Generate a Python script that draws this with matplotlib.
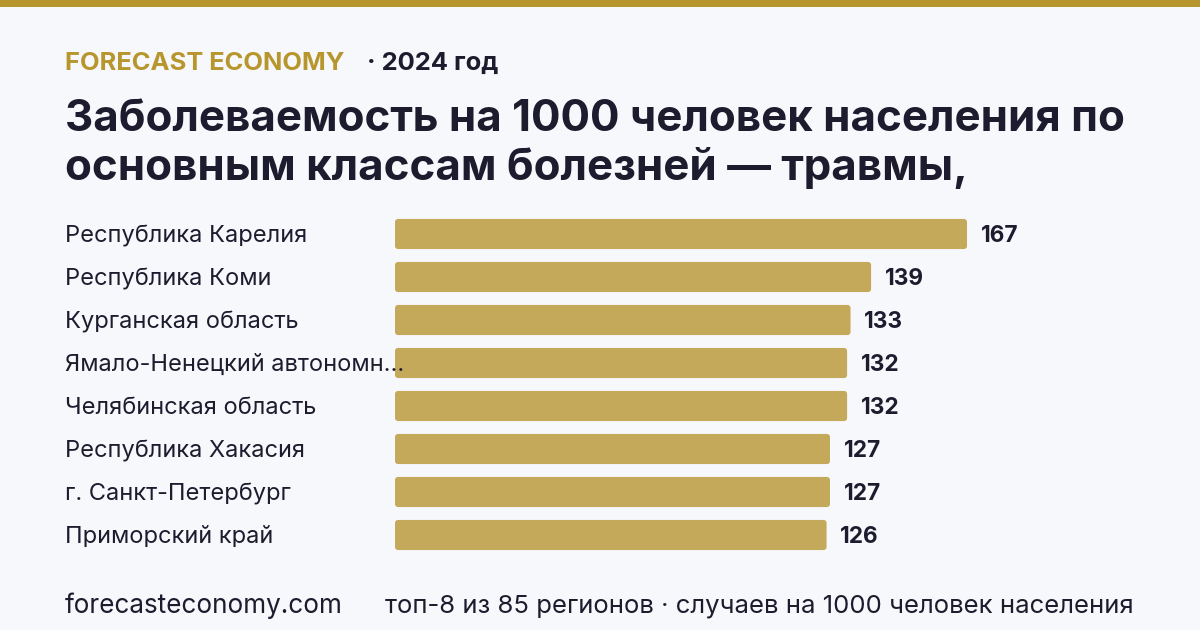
import matplotlib.pyplot as plt
from matplotlib.patches import FancyBboxPatch
from matplotlib.transforms import blended_transform_factory

plt.rcParams['font.family'] = ['Inter', 'DejaVu Sans']

regions = [
    "Республика Карелия",
    "Республика Коми",
    "Курганская область",
    "Ямало-Ненецкий автономн...",
    "Челябинская область",
    "Республика Хакасия",
    "г. Санкт-Петербург",
    "Приморский край",
]
values = [167, 139, 133, 132, 132, 127, 127, 126]

bg = "#f7f8fc"
gold = "#b8962e"
bar_color = "#c4a95b"
ink = "#1c1c2e"

W, H = 1200, 630
fig = plt.figure(figsize=(12, 6.3), dpi=100, facecolor=bg)

# top band
fig.add_artist(plt.Rectangle((0, 1 - 7 / H), 1, 7 / H, transform=fig.transFigure,
                             color=gold, lw=0))


def px(x, y):
    return x / W, 1 - y / H


fig.text(*px(65, 63), "FORECAST ECONOMY", color=gold, fontsize=18.4, fontweight='bold',
         va='center', ha='left')
fig.text(*px(367, 63), "· 2024 год", color=ink, fontsize=18.4, fontweight='bold',
         va='center', ha='left')
fig.text(*px(65, 131), "Заболеваемость на 1000 человек населения по", color=ink,
         fontsize=31.6, fontweight='bold', va='baseline', ha='left')
fig.text(*px(65, 180), "основным классам болезней — травмы,", color=ink,
         fontsize=31.6, fontweight='bold', va='baseline', ha='left')

# bars area: x from 395 px, 167 -> 967 px; rows centred 234..535
top, bottom = 212.5, 556.5
ax = fig.add_axes([395 / W, 1 - bottom / H, 572 / W, (bottom - top) / H])
ax.set_facecolor('none')
ypos = list(range(len(regions)))
bars = ax.barh(ypos, values, height=0.70, color=bar_color, lw=0)
ax.set_xlim(0, values[0])
ax.set_ylim(len(regions) - 0.5, -0.5)
ax.axis('off')

# swap plain rectangles for slightly rounded ones
for b in bars:
    x0, y0 = b.get_x(), b.get_y()
    w, h = b.get_width(), b.get_height()
    b.set_visible(False)
    ax.add_patch(FancyBboxPatch((x0, y0), w, h,
                                boxstyle="round,pad=0,rounding_size=0.9",
                                mutation_aspect=0.078, fc=bar_color, lw=0))

lab_tr = blended_transform_factory(fig.transFigure, ax.transData)
for y, v, name in zip(ypos, values, regions):
    ax.text(v + 4, y + 0.05, f"{v}", color=ink, fontsize=16.3, fontweight='bold',
            va='center', ha='left')
    ax.text(65 / W, y + 0.05, name, transform=lab_tr, color=ink, fontsize=17,
            va='center', ha='left')

fig.text(*px(65, 606), "forecasteconomy.com", color=ink, fontsize=18.8,
         va='center', ha='left')
fig.text(*px(385, 606), "топ-8 из 85 регионов · случаев на 1000 человек населения",
         color=ink, fontsize=18.5, va='center', ha='left')

fig.savefig("out.png", dpi=100, facecolor=bg)
